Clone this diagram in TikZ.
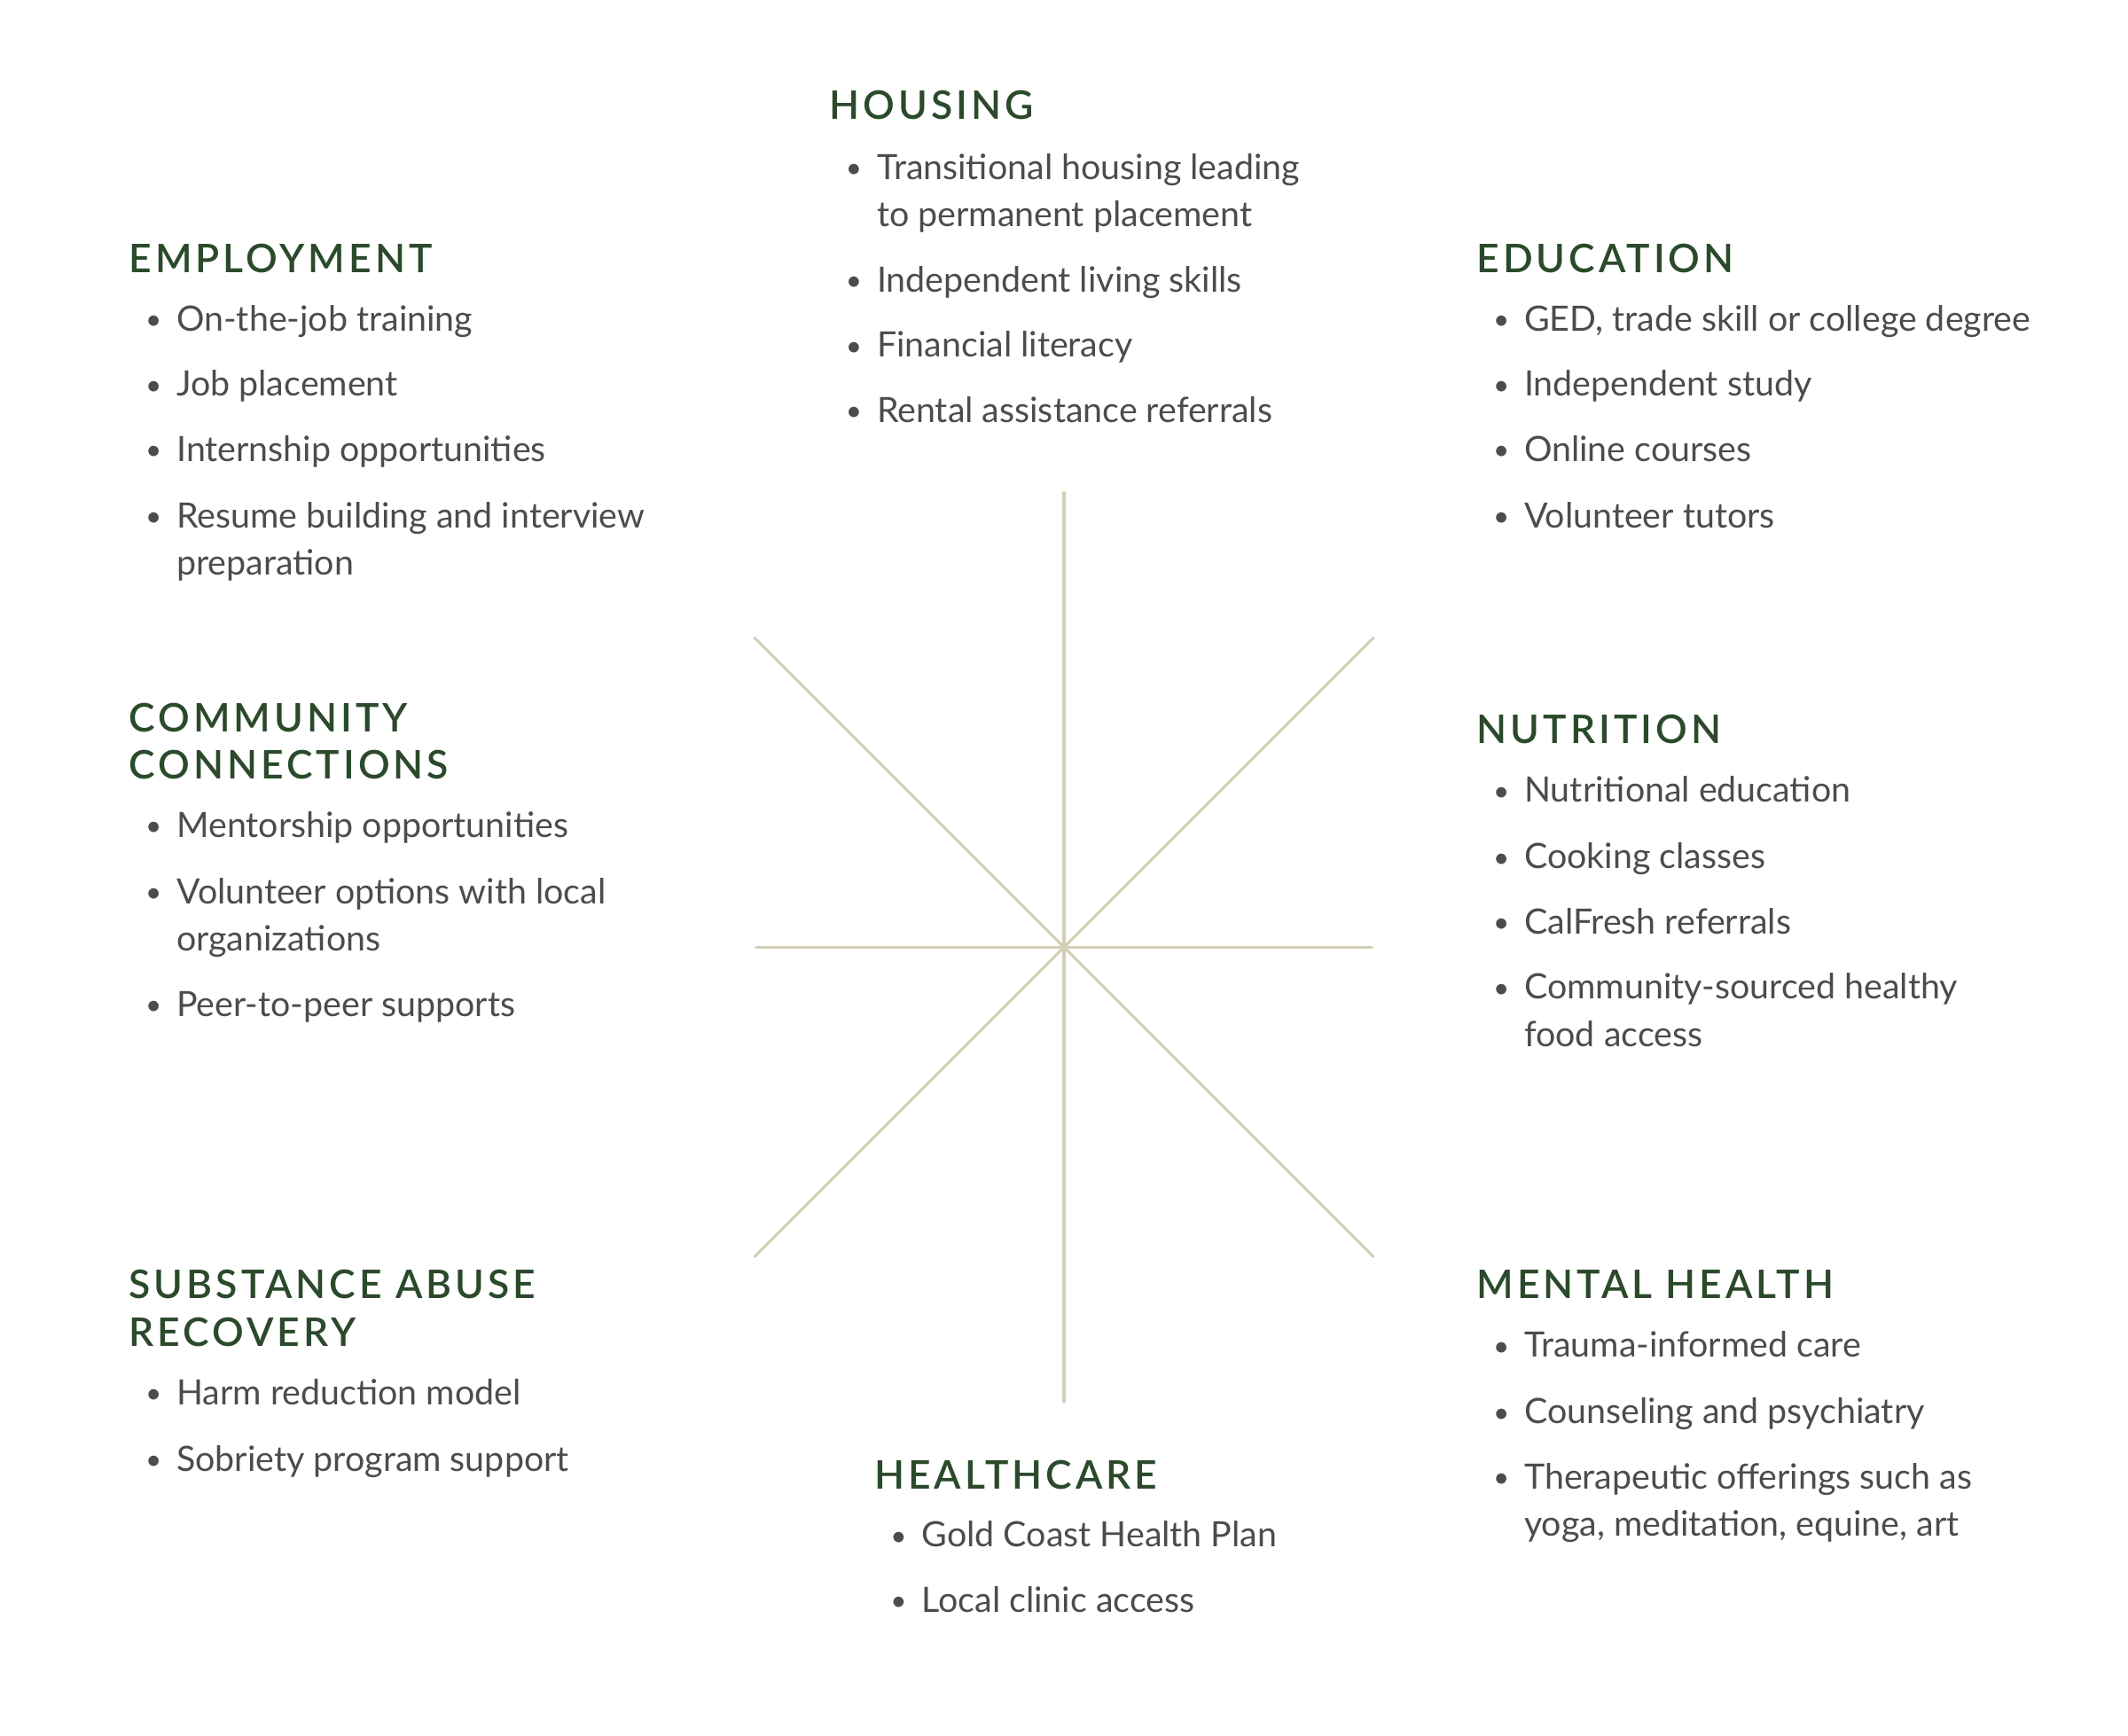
\documentclass[tikz,border=0pt]{standalone}
\usepackage{fontspec}
\usepackage{graphicx}
\setmainfont{Lato}
\IfFontExistsTF{Lato Semibold}
  {\newfontfamily\headfamily{Lato Semibold}[LetterSpace=9]}
  {\newfontfamily\headfamily{Lato}[UprightFont=*, UprightFeatures={LetterSpace=5.5}, BoldFeatures={LetterSpace=5.5}]}
\usetikzlibrary{positioning}
\definecolor{leaf}{HTML}{2B4A2B}
\definecolor{ink}{HTML}{4F4A4C}
\definecolor{spoke}{HTML}{D4D0B6}

\IfFontExistsTF{Lato Semibold}
  {\newcommand{\headfont}{\headfamily\fontsize{29}{35}\selectfont}}
  {\newcommand{\headfont}{\headfamily\bfseries\fontsize{29}{35}\selectfont}}
\newcommand{\itemfont}{\fontsize{25.7}{35}\selectfont}
\newcommand{\dotmark}{\llap{\makebox[23pt][l]{\raisebox{1pt}{\scalebox{0.8}{\textbullet}}}}}

\begin{document}
\begin{tikzpicture}[x=1pt, y=-1pt,
   cathead/.style={anchor=base west, inner sep=0, text=leaf, font=\headfont, align=left},
   catitem/.style={anchor=base west, inner sep=0, text=ink, font=\itemfont, align=left},
   spokeline/.style={draw=spoke, line width=2, line cap=round}
  ]

  \fill[white] (0,0) rectangle (1568,1279);
  \useasboundingbox (0,0) rectangle (1568,1279);

  % star in the middle
  \coordinate (hub) at (784,698);
  \foreach \dx/\dy [count=\i] in {0/-335, 228/-228, 227/0, 228/228, 0/335, -228/228, -227/0, -228/-228} {
    \coordinate (tip\i) at ([shift={(\dx,\dy)}]hub);
    \draw[spokeline] (hub) -- (tip\i);
  }

  % housing (two-line entries sit on the baseline of their last line)
  \node[cathead] (housing) at (611,88) {HOUSING};
  \foreach \n/\y/\t in {1/167/{Transitional housing leading\\to permanent placement},
                        2/215/{Independent living skills},
                        3/263/{Financial literacy},
                        4/311/{Rental assistance referrals}} {
    \node[catitem] (housing-\n) at (646,\y) {\dotmark\t};
  }

  % employment
  \node[cathead] (employment) at (95,201) {EMPLOYMENT};
  \foreach \n/\y/\t in {1/244/{On-the-job training},
                        2/292/{Job placement},
                        3/340/{Internship opportunities},
                        4/424/{Resume building and interview\\preparation}} {
    \node[catitem] (employment-\n) at (130,\y) {\dotmark\t};
  }

  % education
  \node[cathead] (education) at (1088,201) {EDUCATION};
  \foreach \n/\y/\t in {1/244/{GED, trade skill or college degree},
                        2/292/{Independent study},
                        3/340/{Online courses},
                        4/389/{Volunteer tutors}} {
    \node[catitem] (education-\n) at (1123,\y) {\dotmark\t};
  }

  % community connections
  \node[cathead] (community) at (95,574) {COMMUNITY\\CONNECTIONS};
  \foreach \n/\y/\t in {1/617/{Mentorship opportunities},
                        2/701/{Volunteer options with local\\organizations},
                        3/749/{Peer-to-peer supports}} {
    \node[catitem] (community-\n) at (130,\y) {\dotmark\t};
  }

  % nutrition
  \node[cathead] (nutrition) at (1088,548) {NUTRITION};
  \foreach \n/\y/\t in {1/591/{Nutritional education},
                        2/640/{Cooking classes},
                        3/688/{CalFresh referrals},
                        4/771/{Community-sourced healthy\\food access}} {
    \node[catitem] (nutrition-\n) at (1123,\y) {\dotmark\t};
  }

  % substance abuse recovery
  \node[cathead] (recovery) at (95,992) {SUBSTANCE ABUSE\\RECOVERY};
  \foreach \n/\y/\t in {1/1035/{Harm reduction model},
                        2/1084/{Sobriety program support}} {
    \node[catitem] (recovery-\n) at (130,\y) {\dotmark\t};
  }

  % mental health
  \node[cathead] (mental) at (1088,957) {MENTAL HEALTH};
  \foreach \n/\y/\t in {1/1000/{Trauma-informed care},
                        2/1049/{Counseling and psychiatry},
                        3/1132/{Therapeutic offerings such as\\yoga, meditation, equine, art}} {
    \node[catitem] (mental-\n) at (1123,\y) {\dotmark\t};
  }

  % healthcare
  \node[cathead] (healthcare) at (644,1097) {HEALTHCARE};
  \foreach \n/\y/\t in {1/1140/{Gold Coast Health Plan},
                        2/1188/{Local clinic access}} {
    \node[catitem] (healthcare-\n) at (679,\y) {\dotmark\t};
  }

\end{tikzpicture}
\end{document}
